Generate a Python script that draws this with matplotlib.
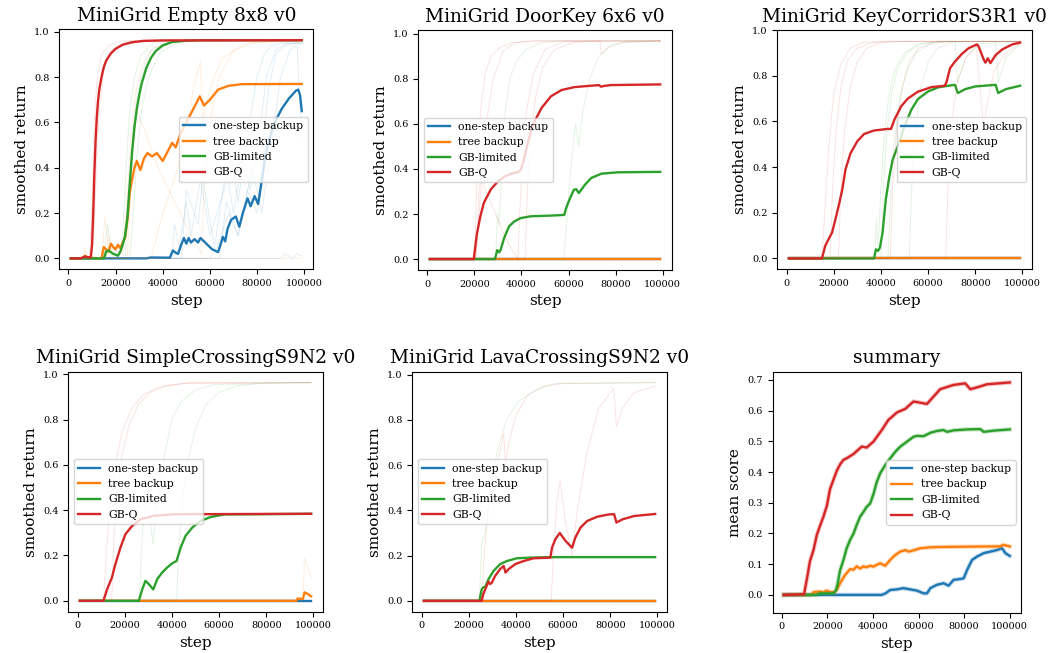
# Learning curves for the GB backup variants on MiniGrid tasks

import numpy as np
import matplotlib
matplotlib.use('Agg')
import matplotlib.pyplot as plt

plt.rcParams['font.family'] = 'serif'
plt.rcParams['font.serif'] = ['DejaVu Serif']

methods = ['one-step backup', 'tree backup', 'GB-limited', 'GB-Q']
colors = ['C0', 'C1', 'C2', 'C3']
zero_x = [1000, 99000]
zero_y = [0.0, 0.0]

# ---- MiniGrid Empty 8x8 v0 ----
empty_onestep_x = [1000, 33000, 35000, 43000, 44300, 45500, 46500, 48000, 49000, 50000, 51000, 52000, 53500, 55000,
                   56000, 57500, 59000, 61000, 63500, 64500, 65500, 66500, 67500, 69000, 71000, 72500, 74000, 76000,
                   77300, 79000, 80500, 82000, 83500, 85000, 87500, 90500, 93500, 96500, 97500, 98300, 99000]
empty_onestep_y = [0.0, 0.0, 0.004, 0.003, 0.035, 0.025, 0.02, 0.065, 0.09, 0.065, 0.09, 0.07, 0.085, 0.07,
                   0.09, 0.075, 0.06, 0.04, 0.028, 0.06, 0.095, 0.075, 0.13, 0.17, 0.185, 0.14, 0.2, 0.265,
                   0.23, 0.275, 0.24, 0.34, 0.45, 0.52, 0.6, 0.66, 0.705, 0.74, 0.745, 0.72, 0.65]
empty_tree_x = [1000, 6000, 7000, 8000, 14000, 15000, 16000, 17000, 18000, 19000, 20000, 21000, 22000, 23000, 24000,
                25000, 26000, 27000, 28000, 29000, 30500, 32000, 33500, 35500, 37500, 40000, 42000, 44000, 45500,
                47500, 50500, 53500, 55700, 57500, 60000, 63500, 68000, 73500, 99000]
empty_tree_y = [0.0, 0.0, 0.012, 0.003, 0.0, 0.05, 0.04, 0.03, 0.065, 0.05, 0.04, 0.06, 0.045, 0.07, 0.09,
                0.17, 0.29, 0.35, 0.4, 0.43, 0.39, 0.44, 0.465, 0.45, 0.465, 0.43, 0.47, 0.51, 0.49,
                0.55, 0.61, 0.67, 0.715, 0.675, 0.7, 0.745, 0.762, 0.769, 0.77]
empty_gbl_x = [1000, 15000, 16000, 17000, 19000, 21000, 22000, 23000, 24000, 25000, 26000, 27000, 28000, 29000,
               30000, 31000, 33000, 35000, 37000, 40000, 44000, 50000, 56000, 99000]
empty_gbl_y = [0.0, 0.0, 0.03, 0.035, 0.02, 0.012, 0.03, 0.06, 0.1, 0.18, 0.33, 0.47, 0.58, 0.66,
               0.72, 0.77, 0.84, 0.885, 0.915, 0.94, 0.955, 0.961, 0.963, 0.963]
empty_gbq_x = [1000, 5000, 7000, 9000, 9500, 10000, 10500, 11000, 11500, 12000, 12500, 13000, 14000, 15000, 16000,
               18000, 20000, 23000, 27000, 32000, 40000, 99000]
empty_gbq_y = [0.0, 0.0, 0.008, 0.004, 0.01, 0.06, 0.2, 0.38, 0.52, 0.62, 0.69, 0.74, 0.8, 0.845, 0.873,
               0.905, 0.925, 0.943, 0.954, 0.96, 0.962, 0.963]

empty_seeds_onestep = [
    ([1000, 44000, 45000, 47000, 50000, 52000, 56000, 60000, 66000, 69000, 72000, 76000, 80000, 83000, 86000, 90000, 99000],
     [0, 0, 0.15, 0.05, 0.25, 0.1, 0.35, 0.1, 0.3, 0.45, 0.25, 0.55, 0.8, 0.9, 0.94, 0.95, 0.95]),
    ([1000, 48000, 50000, 55000, 57000, 62000, 67000, 70000, 74000, 77000, 81000, 84000, 88000, 93000, 99000],
     [0, 0, 0.3, 0.15, 0.35, 0.05, 0.4, 0.2, 0.45, 0.3, 0.55, 0.8, 0.92, 0.95, 0.95]),
    ([1000, 60000, 63000, 68000, 72000, 76000, 80000, 82000, 85000, 88000, 92000, 96000, 99000],
     [0, 0, 0.05, 0.2, 0.1, 0.3, 0.2, 0.45, 0.75, 0.9, 0.94, 0.95, 0.95]),
    ([1000, 64000, 67000, 72000, 78000, 82000, 86000, 90000, 94000, 97000, 99000],
     [0, 0, 0.25, 0.1, 0.4, 0.2, 0.5, 0.8, 0.92, 0.94, 0.5]),
    ([1000, 90000, 92000, 95000, 97000, 99000], [0, 0, 0.02, 0.0, 0.02, 0.01]),
]
empty_seeds_tree = [
    ([1000, 14000, 15500, 17000, 23000, 24500, 26000, 28000, 31000, 36000, 45000, 99000],
     [0, 0, 0.18, 0.05, 0.02, 0.2, 0.45, 0.7, 0.85, 0.93, 0.955, 0.96]),
    ([1000, 25000, 27000, 29000, 33000, 38000, 45000, 52000, 56500, 57500, 60000, 64000, 70000, 80000, 99000],
     [0, 0, 0.45, 0.65, 0.55, 0.4, 0.25, 0.1, 0.02, 0.3, 0.6, 0.8, 0.92, 0.955, 0.96]),
    ([1000, 35000, 40000, 45000, 50000, 53000, 56000, 57000, 60000, 65000, 75000, 99000],
     [0, 0, 0.2, 0.35, 0.55, 0.75, 0.87, 0.6, 0.75, 0.88, 0.95, 0.96]),
    ([1000, 6000, 7000, 8000, 16000, 17000, 19000, 99000], [0, 0, 0.05, 0, 0, 0.1, 0, 0]),
]
empty_seeds_gbl = [
    ([1000, 15000, 16500, 18000, 22000, 23000, 24000, 25000, 26000, 28000, 31000, 36000, 45000, 99000],
     [0, 0, 0.15, 0.05, 0.02, 0.1, 0.3, 0.5, 0.65, 0.8, 0.9, 0.95, 0.962, 0.963]),
    ([1000, 24000, 25500, 27000, 28500, 31000, 35000, 42000, 52000, 99000],
     [0, 0, 0.25, 0.5, 0.68, 0.82, 0.92, 0.955, 0.963, 0.963]),
    ([1000, 26000, 27500, 29000, 31000, 34000, 39000, 47000, 58000, 99000],
     [0, 0, 0.2, 0.45, 0.65, 0.8, 0.91, 0.955, 0.963, 0.963]),
]
empty_seeds_gbq = [
    ([1000, 9000, 10000, 11000, 12000, 14000, 17000, 22000, 30000, 99000],
     [0, 0, 0.25, 0.6, 0.78, 0.9, 0.94, 0.958, 0.963, 0.963]),
    ([1000, 10000, 11000, 12000, 13000, 15000, 18000, 24000, 32000, 99000],
     [0, 0, 0.15, 0.45, 0.65, 0.83, 0.92, 0.955, 0.962, 0.963]),
]

# ---- MiniGrid DoorKey 6x6 v0 ----
dk_gbl_x = [1000, 28700, 29700, 30500, 31100, 32600, 34700, 36900, 39700, 44000, 52500, 58200, 59000, 60400,
            62300, 63300, 64400, 67000, 69700, 74000, 81000, 99000]
dk_gbl_y = [0.0, 0.0, 0.04, 0.03, 0.04, 0.093, 0.145, 0.167, 0.182, 0.19, 0.193, 0.196, 0.227, 0.264,
            0.308, 0.31, 0.293, 0.33, 0.36, 0.379, 0.385, 0.387]
dk_gbq_x = [1000, 19700, 21000, 22500, 24000, 27000, 30000, 33000, 36000, 38500, 39700, 41000, 43000, 45500,
            48500, 52500, 57000, 62500, 67000, 73000, 73800, 75000, 78000, 99000]
dk_gbq_y = [0.0, 0.0, 0.11, 0.19, 0.25, 0.31, 0.345, 0.367, 0.38, 0.385, 0.397, 0.44, 0.53, 0.61,
            0.67, 0.722, 0.75, 0.763, 0.767, 0.772, 0.765, 0.768, 0.772, 0.775]

dk_seeds_gbl = [
    ([1000, 29000, 29800, 30500, 31500, 33000, 35000, 38000, 42000, 48000, 56000, 99000],
     [0, 0, 0.2, 0.15, 0.4, 0.65, 0.8, 0.88, 0.93, 0.96, 0.968, 0.968]),
    ([1000, 58000, 59500, 61000, 63000, 64300, 66000, 69000, 73000, 78000, 85000, 99000],
     [0, 0, 0.2, 0.4, 0.6, 0.5, 0.65, 0.8, 0.9, 0.95, 0.965, 0.968]),
]
dk_seeds_gbq = [
    ([1000, 20000, 21000, 22500, 24500, 27000, 31000, 36000, 45000, 99000],
     [0, 0, 0.35, 0.65, 0.82, 0.9, 0.94, 0.96, 0.968, 0.968]),
    ([1000, 20500, 22000, 25000, 28000, 32000, 37000, 45000, 99000],
     [0, 0, 0.3, 0.6, 0.8, 0.92, 0.96, 0.968, 0.968]),
    ([1000, 20500, 23000, 27000, 32000, 36000, 38500, 39200, 40500, 42000, 45000, 50000, 58000, 99000],
     [0, 0, 0.35, 0.25, 0.12, 0.04, 0.0, 0.2, 0.45, 0.65, 0.82, 0.93, 0.965, 0.968]),
    ([1000, 41500, 42500, 44000, 46000, 49000, 54000, 62000, 70000, 73300, 74000, 77000, 83000, 99000],
     [0, 0, 0.3, 0.55, 0.72, 0.85, 0.93, 0.96, 0.968, 0.968, 0.91, 0.94, 0.96, 0.968]),
]

# ---- MiniGrid KeyCorridorS3R1 v0 ----
kc_gbl_x = [1000, 37100, 37900, 38800, 39600, 40700, 42100, 43600, 45000, 47100, 50000, 52900, 55700, 60000,
            64300, 68600, 71400, 72600, 75700, 80000, 88600, 89700, 92900, 99000]
kc_gbl_y = [0.0, 0.0, 0.04, 0.033, 0.048, 0.113, 0.26, 0.36, 0.433, 0.49, 0.578, 0.651, 0.698, 0.731,
            0.749, 0.756, 0.76, 0.724, 0.741, 0.753, 0.76, 0.724, 0.741, 0.756]
kc_gbq_x = [1000, 15000, 16400, 18600, 19300, 20700, 22100, 23600, 25000, 27100, 30000, 32900, 37100, 42900,
            44300, 45700, 48600, 51400, 55700, 61400, 67100, 67900, 69300, 71400, 74300, 77100, 80700, 81400,
            83600, 84300, 85300, 86400, 88600, 91400, 95700, 99000]
kc_gbq_y = [0.0, 0.0, 0.055, 0.1, 0.113, 0.17, 0.23, 0.3, 0.39, 0.46, 0.513, 0.545, 0.56, 0.567,
            0.567, 0.607, 0.666, 0.7, 0.73, 0.75, 0.756, 0.775, 0.833, 0.862, 0.895, 0.92, 0.937, 0.928,
            0.87, 0.857, 0.876, 0.855, 0.89, 0.915, 0.937, 0.945]

kc_seeds_gbl = [
    ([1000, 37500, 38000, 38800, 40000, 41500, 43500, 46000, 50000, 56000, 65000, 99000],
     [0, 0, 0.17, 0.05, 0.3, 0.55, 0.72, 0.83, 0.9, 0.94, 0.95, 0.95]),
    ([1000, 40000, 41000, 42500, 44500, 47000, 51000, 57000, 66000, 99000],
     [0, 0, 0.3, 0.55, 0.72, 0.83, 0.9, 0.94, 0.95, 0.95]),
    ([1000, 43000, 44000, 45500, 48000, 51000, 55000, 61000, 70000, 71500, 72500, 76000, 82000, 99000],
     [0, 0, 0.25, 0.5, 0.7, 0.82, 0.9, 0.94, 0.95, 0.95, 0.77, 0.88, 0.94, 0.95]),
    ([1000, 52000, 53000, 54500, 57000, 60000, 64000, 70000, 80000, 88500, 89700, 93000, 99000],
     [0, 0, 0.3, 0.55, 0.75, 0.86, 0.92, 0.945, 0.95, 0.95, 0.77, 0.88, 0.94]),
]
kc_seeds_gbq = [
    ([1000, 15000, 16500, 18000, 20000, 23000, 27000, 32000, 40000, 99000],
     [0, 0, 0.25, 0.5, 0.72, 0.85, 0.92, 0.945, 0.95, 0.95]),
    ([1000, 18500, 19500, 21000, 23000, 26000, 30000, 36000, 45000, 99000],
     [0, 0, 0.3, 0.55, 0.75, 0.87, 0.92, 0.945, 0.95, 0.95]),
    ([1000, 22000, 23000, 24500, 27000, 30000, 34000, 40000, 50000, 99000],
     [0, 0, 0.3, 0.55, 0.75, 0.86, 0.92, 0.945, 0.95, 0.95]),
    ([1000, 44000, 45000, 46500, 49000, 52000, 56000, 62000, 72000, 99000],
     [0, 0, 0.3, 0.55, 0.75, 0.86, 0.92, 0.945, 0.95, 0.95]),
    ([1000, 67500, 68500, 70000, 72500, 76000, 80500, 81500, 83500, 85500, 88000, 93000, 99000],
     [0, 0, 0.35, 0.6, 0.78, 0.88, 0.93, 0.8, 0.58, 0.7, 0.82, 0.9, 0.94]),
]

# ---- MiniGrid SimpleCrossingS9N2 v0 ----
sc_tree_x = [1000, 92600, 93300, 95500, 96200, 97600, 99000]
sc_tree_y = [0.0, 0.0, 0.01, 0.008, 0.037, 0.03, 0.02]
sc_gbl_x = [1000, 26000, 27400, 28800, 30200, 32100, 33800, 35900, 38000, 40100, 42000, 43700, 45800, 48700,
            52200, 56500, 62100, 99000]
sc_gbl_y = [0.0, 0.0, 0.05, 0.088, 0.074, 0.05, 0.096, 0.125, 0.147, 0.165, 0.176, 0.235, 0.287, 0.324,
            0.353, 0.37, 0.381, 0.384]
sc_gbq_x = [1000, 11000, 12500, 14600, 16000, 18200, 20300, 23100, 26700, 32300, 40900, 99000]
sc_gbq_y = [0.0, 0.0, 0.05, 0.103, 0.16, 0.235, 0.294, 0.33, 0.36, 0.375, 0.382, 0.384]

sc_seeds_tree = [
    ([1000, 95500, 96200, 97500, 99000], [0, 0, 0.19, 0.15, 0.1]),
]
sc_seeds_gbl = [
    ([1000, 26000, 27500, 29000, 30500, 32000, 34000, 37000, 40000, 44000, 50000, 58000, 99000],
     [0, 0, 0.3, 0.45, 0.38, 0.25, 0.45, 0.65, 0.8, 0.88, 0.93, 0.955, 0.963]),
    ([1000, 42000, 43000, 44500, 47000, 50000, 54000, 60000, 68000, 80000, 99000],
     [0, 0, 0.25, 0.45, 0.63, 0.76, 0.86, 0.92, 0.95, 0.962, 0.963]),
]
sc_seeds_gbq = [
    ([1000, 11000, 12500, 14000, 16000, 19000, 23000, 28000, 35000, 45000, 99000],
     [0, 0, 0.25, 0.45, 0.6, 0.75, 0.85, 0.91, 0.945, 0.96, 0.963]),
    ([1000, 14500, 15500, 17000, 19000, 22000, 26000, 31000, 38000, 48000, 99000],
     [0, 0, 0.3, 0.5, 0.65, 0.78, 0.87, 0.92, 0.95, 0.962, 0.963]),
]

# ---- MiniGrid LavaCrossingS9N2 v0 ----
lc_gbl_x = [1000, 24500, 25500, 26200, 27000, 28400, 30500, 33300, 36200, 40400, 46100, 54600, 99000]
lc_gbl_y = [0.0, 0.0, 0.05, 0.06, 0.062, 0.096, 0.132, 0.162, 0.176, 0.188, 0.191, 0.193, 0.193]
lc_gbq_x = [1000, 25500, 26200, 27000, 28400, 29100, 29800, 31200, 33300, 34800, 35600, 36900, 39700, 43300,
            47500, 54600, 55300, 56700, 58600, 61000, 63800, 65200, 67400, 70200, 74500, 79400, 81600, 82600,
            85100, 90100, 99000]
lc_gbq_y = [0.0, 0.0, 0.03, 0.05, 0.085, 0.074, 0.08, 0.11, 0.14, 0.154, 0.125, 0.14, 0.162, 0.176,
            0.188, 0.191, 0.235, 0.272, 0.3, 0.265, 0.235, 0.28, 0.324, 0.353, 0.372, 0.382, 0.383, 0.346,
            0.36, 0.375, 0.384]

lc_seeds_gbl = [
    ([1000, 24500, 25500, 27000, 29000, 32000, 36000, 41000, 48000, 56000, 99000],
     [0, 0, 0.25, 0.3, 0.48, 0.66, 0.8, 0.88, 0.93, 0.96, 0.965]),
]
lc_seeds_gbq = [
    ([1000, 25500, 26500, 28400, 30000, 33000, 34800, 35600, 37000, 40000, 45000, 52000, 60000, 99000],
     [0, 0, 0.2, 0.42, 0.45, 0.65, 0.74, 0.6, 0.7, 0.82, 0.91, 0.95, 0.962, 0.965]),
    ([1000, 55000, 56000, 57500, 58800, 61000, 63800, 66000, 70000, 75000, 81500, 82600, 85000, 90000, 99000],
     [0, 0, 0.25, 0.45, 0.53, 0.35, 0.2, 0.4, 0.65, 0.85, 0.94, 0.77, 0.85, 0.92, 0.95]),
]

# ---- summary ----
sum_onestep_x = [1000, 43900, 45500, 47600, 50500, 53400, 56300, 59300, 62200, 63700, 65200, 68100, 71000, 73200,
                 75400, 77600, 79800, 81300, 83500, 85700, 88600, 91500, 94400, 96600, 98100, 100000]
sum_onestep_y = [0.0, 0.0, 0.005, 0.016, 0.018, 0.022, 0.018, 0.014, 0.005, 0.005, 0.022, 0.033, 0.038, 0.03,
                 0.049, 0.051, 0.054, 0.081, 0.114, 0.125, 0.136, 0.141, 0.146, 0.152, 0.136, 0.127]
sum_tree_x = [1000, 13000, 14000, 17000, 18000, 19800, 21000, 23000, 24200, 25600, 27800, 30000, 31500, 32900,
              34400, 35900, 37300, 38800, 40300, 41700, 43200, 45400, 47600, 49800, 52000, 54300, 55600, 57800,
              60800, 65200, 69500, 80000, 95900, 97000, 100000]
sum_tree_y = [0.0, 0.0, 0.009, 0.011, 0.008, 0.014, 0.01, 0.008, 0.017, 0.038, 0.065, 0.084, 0.082, 0.093,
              0.086, 0.093, 0.09, 0.095, 0.092, 0.098, 0.103, 0.095, 0.114, 0.13, 0.141, 0.146, 0.141, 0.145,
              0.152, 0.155, 0.156, 0.157, 0.158, 0.163, 0.158]
sum_gbl_x = [1000, 15000, 17000, 22700, 23800, 24500, 25600, 27100, 28500, 30000, 31500, 32900, 34400, 35900,
             37300, 38800, 40300, 41700, 43200, 45400, 47600, 49800, 52000, 54900, 57800, 59300, 62200, 65200,
             68100, 71000, 72500, 75400, 81300, 87100, 88600, 93000, 100000]
sum_gbl_y = [0.0, 0.0, 0.005, 0.005, 0.015, 0.035, 0.08, 0.114, 0.152, 0.179, 0.2, 0.228, 0.255, 0.271,
             0.287, 0.298, 0.33, 0.368, 0.396, 0.423, 0.445, 0.466, 0.483, 0.499, 0.515, 0.518, 0.517, 0.528,
             0.534, 0.537, 0.531, 0.536, 0.539, 0.54, 0.531, 0.535, 0.539]
sum_gbq_x = [1000, 9800, 11000, 12400, 13900, 15400, 16800, 18300, 19800, 21200, 22700, 24200, 25600, 27100,
             28500, 31500, 35100, 37300, 40300, 43900, 46800, 50500, 54200, 57800, 60800, 63700, 66600, 69500,
             75400, 80500, 82700, 85700, 90000, 100000]
sum_gbq_y = [0.0, 0.002, 0.05, 0.11, 0.145, 0.195, 0.225, 0.255, 0.29, 0.345, 0.375, 0.405, 0.425, 0.44,
             0.445, 0.459, 0.483, 0.48, 0.5, 0.537, 0.57, 0.594, 0.606, 0.63, 0.626, 0.622, 0.646, 0.67,
             0.684, 0.689, 0.67, 0.676, 0.686, 0.692]


def rect(left, top, right, bottom, W=1048, H=653):
    return [left / W, 1 - bottom / H, (right - left) / W, (bottom - top) / H]


def draw_panel(ax, title, means, seeds, ylabel='smoothed return', loc='center right', halo=False):
    for i in range(4):
        for sx, sy in seeds[i]:
            ax.plot(sx, sy, color=colors[i], lw=0.7, alpha=0.13)
        mx, my = means[i]
        if halo:
            ax.plot(mx, my, color=colors[i], lw=3.2, alpha=0.25)
        ax.plot(mx, my, color=colors[i], lw=1.7, label=methods[i])
    ax.set_title(title, fontsize=13.4)
    ax.set_xlabel('step', fontsize=11)
    ax.set_ylabel(ylabel, fontsize=11)
    ax.tick_params(labelsize=7)
    ax.legend(loc=loc, fontsize=7.8)


fig = plt.figure(figsize=(10.48, 6.53), dpi=100)

ax1 = fig.add_axes(rect(59.3, 29.3, 313.3, 269.3))
draw_panel(ax1, 'MiniGrid Empty 8x8 v0',
           [(empty_onestep_x, empty_onestep_y), (empty_tree_x, empty_tree_y),
            (empty_gbl_x, empty_gbl_y), (empty_gbq_x, empty_gbq_y)],
           [empty_seeds_onestep, empty_seeds_tree, empty_seeds_gbl, empty_seeds_gbq])

ax2 = fig.add_axes(rect(418.3, 30, 671.7, 270))
draw_panel(ax2, 'MiniGrid DoorKey 6x6 v0',
           [(zero_x, zero_y), (zero_x, zero_y), (dk_gbl_x, dk_gbl_y), (dk_gbq_x, dk_gbq_y)],
           [[], [], dk_seeds_gbl, dk_seeds_gbq], loc='center left')

ax3 = fig.add_axes(rect(777.3, 30, 1031.7, 269.3))
draw_panel(ax3, 'MiniGrid KeyCorridorS3R1 v0',
           [(zero_x, zero_y), (zero_x, zero_y), (kc_gbl_x, kc_gbl_y), (kc_gbq_x, kc_gbq_y)],
           [[], [], kc_seeds_gbl, kc_seeds_gbq])
ax3.set_ylim(-0.0475, 1.0)

ax4 = fig.add_axes(rect(68.3, 371.7, 322.7, 611.7))
draw_panel(ax4, 'MiniGrid SimpleCrossingS9N2 v0',
           [(zero_x, zero_y), (sc_tree_x, sc_tree_y), (sc_gbl_x, sc_gbl_y), (sc_gbq_x, sc_gbq_y)],
           [[], sc_seeds_tree, sc_seeds_gbl, sc_seeds_gbq], loc='center left')

ax5 = fig.add_axes(rect(412.3, 371.7, 666.7, 611.7))
draw_panel(ax5, 'MiniGrid LavaCrossingS9N2 v0',
           [(zero_x, zero_y), (zero_x, zero_y), (lc_gbl_x, lc_gbl_y), (lc_gbq_x, lc_gbq_y)],
           [[], [], lc_seeds_gbl, lc_seeds_gbq], loc='center left')

ax6 = fig.add_axes(rect(772.7, 371.7, 1021, 612.7))
draw_panel(ax6, 'summary',
           [(sum_onestep_x, sum_onestep_y), (sum_tree_x, sum_tree_y),
            (sum_gbl_x, sum_gbl_y), (sum_gbq_x, sum_gbq_y)],
           [[], [], [], []], ylabel='mean score', halo=True)
ax6.set_ylim(-0.058, 0.727)

fig.savefig('out.png', dpi=100)
